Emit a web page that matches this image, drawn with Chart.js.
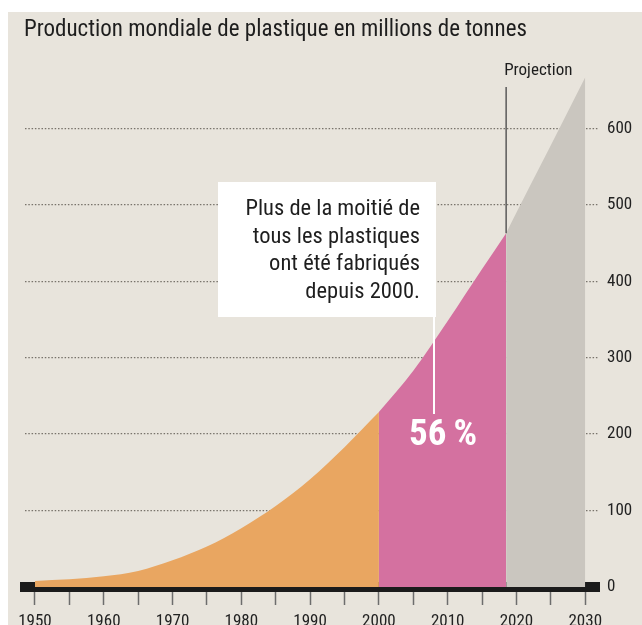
<!DOCTYPE html>
<html>
<head>
<meta charset="utf-8">
<script src="https://cdn.jsdelivr.net/npm/chart.js@4/dist/chart.umd.min.js"></script>
<style>
  html, body { margin: 0; padding: 0; background: #ffffff; }
  #wrap { position: absolute; left: 8px; top: 12px; width: 634px; height: 613px; background: #e8e4dc; }
  canvas { display: block; }
</style>
</head>
<body>
<div id="wrap"><canvas id="chart" width="634" height="613"></canvas></div>
<script>
// Valeurs (millions de tonnes)
const histYears = [1950, 1955, 1960, 1965, 1970, 1975, 1980, 1985, 1990, 1995, 2000];
const histValues = [8, 10, 14, 21, 35, 53, 77, 106, 141, 183, 229];
const recentYears = [2000, 2005, 2010, 2015, 2018.5];
const recentValues = [229, 283, 348, 416, 463];
const projYears = [2018.5, 2020, 2025, 2030];
const projValues = [463, 490, 578, 667];

const xTickYears = [1950, 1955, 1960, 1965, 1970, 1975, 1980, 1985, 1990, 1995, 2000, 2005, 2010, 2015, 2020, 2025, 2030];
const yTickValues = [0, 100, 200, 300, 400, 500, 600];

const title = 'Production mondiale de plastique en millions de tonnes';
const noteLines = ['Plus de la moitié de', 'tous les plastiques', 'ont été fabriqués', 'depuis 2000.'];
const shareLabel = '56\u2009%';

const FONT = '"Liberation Sans Narrow", "Roboto Condensed", "DejaVu Sans Condensed", sans-serif';

const toPoints = (xs, ys) => xs.map((x, i) => ({ x, y: ys[i] }));

const area = (xs, ys, color) => ({
  data: toPoints(xs, ys),
  backgroundColor: color,
  borderWidth: 0,
  pointRadius: 0,
  fill: 'origin',
  cubicInterpolationMode: 'monotone',
});

// Titre, ligne "Projection", encadré et 56 %
const annotations = {
  id: 'annotations',
  afterDraw(chart) {
    const { ctx, scales: { x, y } } = chart;
    ctx.save();

    ctx.fillStyle = '#1e1e1e';
    ctx.font = '23px ' + FONT;
    ctx.textAlign = 'left';
    ctx.textBaseline = 'alphabetic';
    ctx.fillText(title, 16, 24);

    // Projection
    const px = x.getPixelForValue(projYears[0]);
    ctx.strokeStyle = '#5a5a5a';
    ctx.lineWidth = 1.5;
    ctx.beginPath();
    ctx.moveTo(px, 75);
    ctx.lineTo(px, y.getPixelForValue(projValues[0]));
    ctx.stroke();
    ctx.font = '17px ' + FONT;
    ctx.fillText('Projection', px - 2, 63);

    // encadré blanc
    ctx.fillStyle = '#ffffff';
    ctx.fillRect(210, 170, 218, 135);
    ctx.strokeStyle = '#ffffff';
    ctx.lineWidth = 2;
    ctx.beginPath();
    ctx.moveTo(426, 305);
    ctx.lineTo(426, 402);
    ctx.stroke();

    ctx.fillStyle = '#1e1e1e';
    ctx.font = '22.5px ' + FONT;
    ctx.textAlign = 'right';
    noteLines.forEach((line, i) => ctx.fillText(line, 412, 203 + i * 27.7));

    ctx.fillStyle = '#ffffff';
    ctx.font = 'bold 37px ' + FONT;
    ctx.textAlign = 'center';
    ctx.textBaseline = 'middle';
    ctx.fillText(shareLabel, 435, 424);

    ctx.restore();
  },
};

new Chart(document.getElementById('chart'), {
  type: 'line',
  data: {
    datasets: [
      area(histYears, histValues, '#e9a661'),
      area(recentYears, recentValues, '#d471a0'),
      area(projYears, projValues, '#cac6bf'),
    ],
  },
  options: {
    responsive: false,
    animation: false,
    layout: { padding: { left: 17, top: 40, right: 0, bottom: 0 } },
    plugins: { legend: { display: false }, tooltip: { enabled: false } },
    scales: {
      x: {
        type: 'linear',
        min: 1948.55,
        max: 2032,
        z: 1,
        afterBuildTicks: (scale) => { scale.ticks = xTickYears.map((v) => ({ value: v })); },
        afterFit: (scale) => { scale.height = 38; },
        grid: { drawOnChartArea: false, drawTicks: true, tickLength: 18, tickColor: '#6d6d6d', tickWidth: 1.5 },
        border: { display: true, color: '#1b1b1b', width: 10 },
        ticks: {
          autoSkip: false,
          maxRotation: 0,
          padding: 7,
          color: '#222222',
          font: { family: FONT, size: 17 },
          callback: (v) => (v % 10 === 0 ? String(v) : ''),
        },
      },
      y: {
        position: 'right',
        min: 0,
        max: 700,
        z: 1,
        afterBuildTicks: (scale) => { scale.ticks = yTickValues.map((v) => ({ value: v })); },
        afterFit: (scale) => { scale.width = 43; },
        grid: {
          drawTicks: false,
          lineWidth: 1.3,
          color: (c) => (c.tick && c.tick.value === 0 ? 'rgba(0,0,0,0)' : '#78736b'),
        },
        border: { display: false, dash: [1.5, 1.8] },
        ticks: {
          padding: 8,
          color: '#222222',
          font: { family: FONT, size: 17 },
        },
      },
    },
  },
  plugins: [annotations],
});
</script>
</body>
</html>
